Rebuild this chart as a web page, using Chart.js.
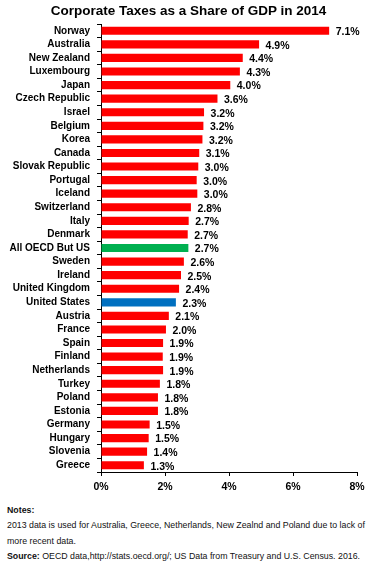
<!DOCTYPE html>
<html>
<head>
<meta charset="utf-8">
<script src="https://cdn.jsdelivr.net/npm/chart.js@4/dist/chart.umd.min.js"></script>
<style>
  html, body { margin: 0; padding: 0; background: #fff; }
  #wrap { position: relative; width: 377px; height: 569px; overflow: hidden; font-family: "Liberation Sans", Arial, sans-serif; }
  #c { position: absolute; left: 0; top: 0; }
  #title { position: absolute; left: 0; top: 2.5px; width: 377px; text-align: center; font-size: 13.5px; line-height: 16px; font-weight: bold; color: #000; }
  #notes { position: absolute; left: 7px; top: 503px; width: 365px; font-size: 8.8px; line-height: 15.3px; color: #111; }
  #notes b { font-weight: bold; }
</style>
</head>
<body>
<div id="wrap">
  <canvas id="c" width="377" height="500"></canvas>
  <div id="title"></div>
  <div id="notes">
    <div><b>Notes:</b></div>
    <div>2013 data is used for Australia, Greece, Netherlands, New Zealnd and Poland due to lack of more recent data.</div>
    <div><b>Source:</b> OECD data,http://stats.oecd.org/; US Data from Treasury and U.S. Census. 2016.</div>
  </div>
</div>
<script>
const titleText = 'Corporate Taxes as a Share of GDP in 2014';
const categories = ['Norway','Australia','New Zealand','Luxembourg','Japan','Czech Republic','Israel','Belgium','Korea','Canada','Slovak Republic','Portugal','Iceland','Switzerland','Italy','Denmark','All OECD But US','Sweden','Ireland','United Kingdom','United States','Austria','France','Spain','Finland','Netherlands','Turkey','Poland','Estonia','Germany','Hungary','Slovenia','Greece'];
const taxShare = [7.13,4.94,4.43,4.34,4.04,3.64,3.22,3.20,3.17,3.07,3.04,2.99,3.01,2.81,2.74,2.71,2.73,2.59,2.50,2.44,2.34,2.12,2.03,1.94,1.93,1.94,1.84,1.78,1.78,1.52,1.49,1.44,1.34];
const xTicks = [0,2,4,6,8];
const highlightGreen = 'All OECD But US';
const highlightBlue = 'United States';

document.getElementById('title').textContent = titleText;

const RED = '#FF0000', GREEN = '#00B050', BLUE = '#0070C0';
const barColors = categories.map(c => c === highlightGreen ? GREEN : (c === highlightBlue ? BLUE : RED));
const FONT = '"Liberation Sans", Arial, sans-serif';

const valueLabels = {
  id: 'valueLabels',
  afterDatasetsDraw(chart) {
    const ctx = chart.ctx;
    const meta = chart.getDatasetMeta(0);
    ctx.save();
    ctx.font = 'bold 10.5px ' + FONT;
    ctx.fillStyle = '#000';
    ctx.textAlign = 'left';
    ctx.textBaseline = 'middle';
    meta.data.forEach((bar, i) => {
      const v = chart.data.datasets[0].data[i];
      ctx.fillText(v.toFixed(1) + '%', bar.x + 6.5, bar.y + 1.5);
    });
    ctx.restore();
  }
};

new Chart(document.getElementById('c'), {
  type: 'bar',
  data: {
    labels: categories,
    datasets: [{
      data: taxShare,
      backgroundColor: barColors,
      borderWidth: 0,
      barPercentage: 0.6,
      categoryPercentage: 1
    }]
  },
  options: {
    indexAxis: 'y',
    responsive: false,
    devicePixelRatio: 1,
    animation: false,
    layout: { padding: { left: 0, right: 20, top: 24, bottom: 0 } },
    plugins: {
      legend: { display: false },
      tooltip: { enabled: false },
      title: { display: false }
    },
    scales: {
      x: {
        min: 0, max: 8,
        afterBuildTicks: s => { s.ticks = xTicks.map(v => ({ value: v })); },
        afterFit: s => { s.height = 28; },
        ticks: {
          callback: v => v + '%',
          color: '#000',
          padding: 5,
          font: { family: FONT, size: 10.5, weight: 'bold' },
          maxRotation: 0
        },
        grid: { drawOnChartArea: false, drawTicks: true, tickLength: 4, color: '#000' },
        border: { color: '#000', width: 1 }
      },
      y: {
        afterFit: s => { s.width = 101; },
        ticks: {
          color: '#000',
          padding: 7,
          autoSkip: false,
          font: { family: FONT, size: 10, weight: 'bold' }
        },
        grid: { drawOnChartArea: false, drawTicks: true, tickLength: 4, color: '#000', offset: true },
        border: { color: '#000', width: 1 }
      }
    }
  },
  plugins: [valueLabels]
});
</script>
</body>
</html>
